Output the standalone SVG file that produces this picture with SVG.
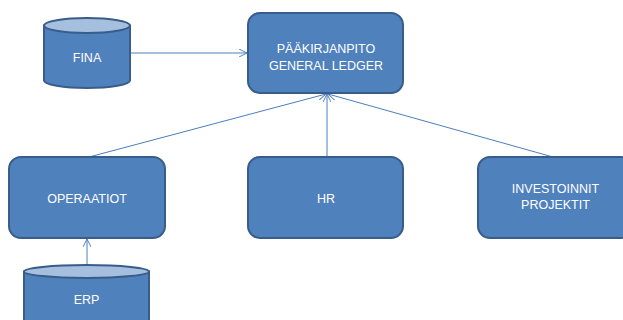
<svg xmlns="http://www.w3.org/2000/svg" width="623" height="320" viewBox="0 0 623 320">
<style>
.box{fill:#4F81BD;stroke:#385D8A;stroke-width:2}
.cyl{fill:#4F81BD;stroke:#385D8A;stroke-width:2}
.top{fill:#A7BFDE;stroke:#385D8A;stroke-width:2}
.lbl{font-family:"Liberation Sans",Arial,sans-serif;font-size:12.5px;fill:#FFFFFF;text-anchor:middle}
.conn{stroke:#4A7EBB;stroke-width:1;fill:none;marker-end:url(#arr)}
</style>
<defs>
<marker id="arr" viewBox="0 0 10 10" refX="10" refY="5" markerWidth="8" markerHeight="8" markerUnits="userSpaceOnUse" orient="auto">
<path d="M0,0 L10,5 L0,10" fill="none" stroke="#4A7EBB" stroke-width="1.2"/>
</marker>
</defs>
<rect width="623" height="320" fill="#FFFFFF"/>
<g id="connectors">
<line class="conn" x1="130" y1="53" x2="247" y2="53"/>
<line class="conn" x1="89" y1="157" x2="326" y2="94"/>
<line class="conn" x1="327" y1="157" x2="327" y2="94"/>
<line class="conn" x1="553" y1="157" x2="328" y2="94"/>
<line class="conn" x1="87" y1="265" x2="87" y2="239"/>
</g>
<g id="fina">
<path class="cyl" d="M44,25.5 L44,80.5 A43,7.5 0 0 0 130,80.5 L130,25.5 Z"/>
<ellipse class="top" cx="87" cy="25.5" rx="43" ry="7.5"/>
<text class="lbl" x="87" y="61.5">FINA</text>
</g>
<g id="general-ledger">
<rect class="box" x="248" y="13" width="155" height="80" rx="12"/>
<text class="lbl" x="326" y="52.5">PÄÄKIRJANPITO</text>
<text class="lbl" x="326" y="69.5">GENERAL LEDGER</text>
</g>
<g id="operaatiot">
<rect class="box" x="9" y="157" width="156" height="81" rx="12"/>
<text class="lbl" x="87" y="202.5">OPERAATIOT</text>
</g>
<g id="hr">
<rect class="box" x="248" y="157" width="155" height="81" rx="12"/>
<text class="lbl" x="326" y="202.5">HR</text>
</g>
<g id="investoinnit">
<rect class="box" x="478" y="157" width="155" height="81" rx="12"/>
<text class="lbl" x="555.5" y="192.5">INVESTOINNIT</text>
<text class="lbl" x="555.5" y="208.5">PROJEKTIT</text>
</g>
<g id="erp">
<path class="cyl" d="M24,271.5 L24,330 A62.5,6.5 0 0 0 149,330 L149,271.5 Z"/>
<ellipse class="top" cx="86.5" cy="271.5" rx="62.5" ry="6.5"/>
<text class="lbl" x="86.5" y="303.5">ERP</text>
</g>
</svg>
